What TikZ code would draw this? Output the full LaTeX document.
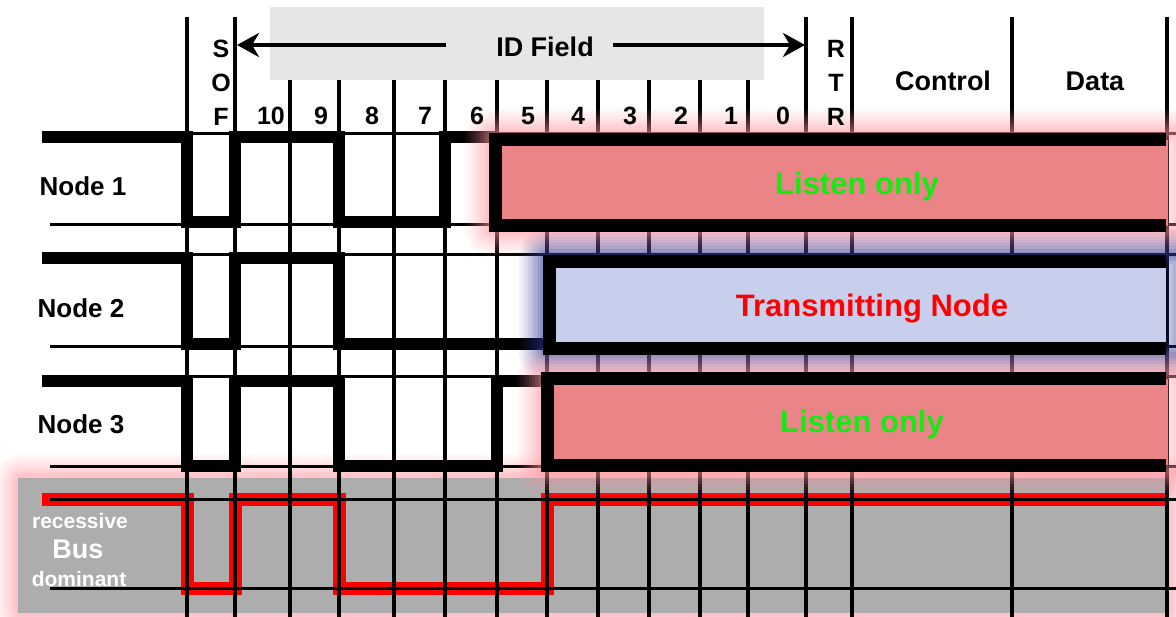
\documentclass[tikz,border=0pt]{standalone}
\usepackage{fontspec}
\setmainfont{Liberation Sans}
\usetikzlibrary{arrows.meta}
\definecolor{listenpink}{RGB}{235,132,134}
\definecolor{txblue}{RGB}{200,207,236}
\definecolor{busgray}{RGB}{173,173,173}
\definecolor{hdrgray}{RGB}{230,230,230}
\definecolor{glowpink}{RGB}{255,150,160}
\definecolor{glowblue}{RGB}{45,55,150}
\definecolor{txtgreen}{RGB}{20,235,20}
\definecolor{txtred}{RGB}{255,0,0}
\newcommand{\myglow}[3]{%
  \foreach \w/\o in {48/0.06,42/0.06,36/0.07,30/0.08,24/0.09,18/0.11,12/0.13,6/0.16}{%
    \draw[draw=#1, line width={\w pt}, opacity=\o, rounded corners=4pt] #2 rectangle #3;}}
\begin{document}
\begin{tikzpicture}[x=1pt,y=-1pt,
  vline/.style={line width=3.5pt},
  hline/.style={line width=3pt},
  wave/.style={line width=12.5pt, line join=miter},
  busw/.style={line width=13pt, draw=red, line join=miter},
  border/.style={line width=13pt, line join=miter},
  hdrtxt/.style={font=\fontsize{27}{29}\selectfont\bfseries, inner sep=0pt},
  numtxt/.style={font=\fontsize{25}{27}\selectfont\bfseries, inner sep=0pt},
  nodetxt/.style={font=\fontsize{26}{28}\selectfont\bfseries, inner sep=0pt},
  boxtxt/.style={font=\fontsize{31}{33}\selectfont\bfseries, inner sep=0pt},
  bustxt/.style={font=\fontsize{21}{23}\selectfont\bfseries, inner sep=0pt, text=white},
  arr/.style={line width=4pt, -{Stealth[length=22pt,width=24pt,inset=7pt]}},
]
\useasboundingbox (0,0) rectangle (1176,617);
\fill[white] (0,0) rectangle (1176,617);

% bus area
\myglow{glowpink}{(18,478)}{(1168,613)}
\fill[busgray] (18,478) rectangle (1168,613);
\draw[busw] (42,500) -- (187,500) -- (187,588) -- (235,588) -- (235,500) -- (339,500) -- (339,588) -- (547,588) -- (547,500) -- (1168,500);

% vertical grid
\foreach \x in {187,235,806,852,1012,1167} \draw[vline] (\x,17) -- (\x,617);
\foreach \x in {290,339,394,445,497,547,598,649,700,748} \draw[vline] (\x,80) -- (\x,617);

% horizontal level lines
\foreach \y in {134,225,255,347,377,467,500,588} \draw[hline] (50,\y) -- (1176,\y);

% node waveforms
\draw[wave] (42,137) -- (187,137) -- (187,222) -- (235,222) -- (235,137) -- (339,137) -- (339,222) -- (445,222) -- (445,137) -- (495,137);
\draw[wave] (42,258) -- (187,258) -- (187,344) -- (235,344) -- (235,258) -- (339,258) -- (339,344) -- (549,344);
\draw[wave] (42,381) -- (187,381) -- (187,466) -- (235,466) -- (235,381) -- (339,381) -- (339,466) -- (497,466) -- (497,381) -- (547,381);

% glows
\myglow{glowpink}{(489,133)}{(1182,232)}
\myglow{glowblue}{(543,255)}{(1182,355)}
\myglow{glowpink}{(541,372)}{(1182,472)}

% boxes
\fill[listenpink] (495,140) rectangle (1168,226);
\draw[border] (1166,140) -- (495,140) -- (495,226) -- (1166,226);
\fill[txblue] (549,261.5) rectangle (1166,348.5);
\draw[border] (1166,261.5) -- (549,261.5) -- (549,348.5) -- (1166,348.5);
\fill[listenpink] (547.5,379) rectangle (1168,465.5);
\draw[border] (1166,379) -- (547.5,379) -- (547.5,465.5) -- (1166,465.5);

% header
\fill[hdrgray] (270,7) rectangle (764,80);
\node[hdrtxt] (idf) at (545,47) {ID Field};
\coordinate (al) at (446,45);
\coordinate (ar) at (613,45);
\coordinate (sofr) at (237,45);
\coordinate (rtrl) at (805,45);
\draw[arr] (al) -- (sofr);
\draw[arr] (ar) -- (rtrl);

\node[numtxt] (s1) at (221,49) {S};
\node[numtxt] (s2) at (221,83) {O};
\node[numtxt] (s3) at (221,117) {F};
\node[numtxt] (r1) at (836,49) {R};
\node[numtxt] (r2) at (836,83) {T};
\node[numtxt] (r3) at (836,117) {R};
\foreach \n/\x in {10/271,9/321,8/372,7/425,6/477,5/528,4/578,3/630,2/681,1/731,0/783}
  \node[numtxt] (b\n) at (\x,116) {\n};
\node[hdrtxt] (ctl) at (943,81) {Control};
\node[hdrtxt] (dat) at (1095,81) {Data};

% labels
\node[nodetxt] (n1) at (83,186) {Node 1};
\node[nodetxt] (n2) at (81,308) {Node 2};
\node[nodetxt] (n3) at (81,424) {Node 3};
\node[boxtxt, text=txtgreen] (l1) at (857,186) {Listen only};
\node[boxtxt, text=txtred] (tx) at (872,309) {Transmitting Node};
\node[boxtxt, text=txtgreen] (l3) at (862,424) {Listen only};
\node[bustxt] (rec) at (80,521) {recessive};
\node[bustxt, font=\fontsize{27}{29}\selectfont\bfseries] (bus) at (78,549) {Bus};
\node[bustxt] (dom) at (79,579) {dominant};
\end{tikzpicture}
\end{document}
